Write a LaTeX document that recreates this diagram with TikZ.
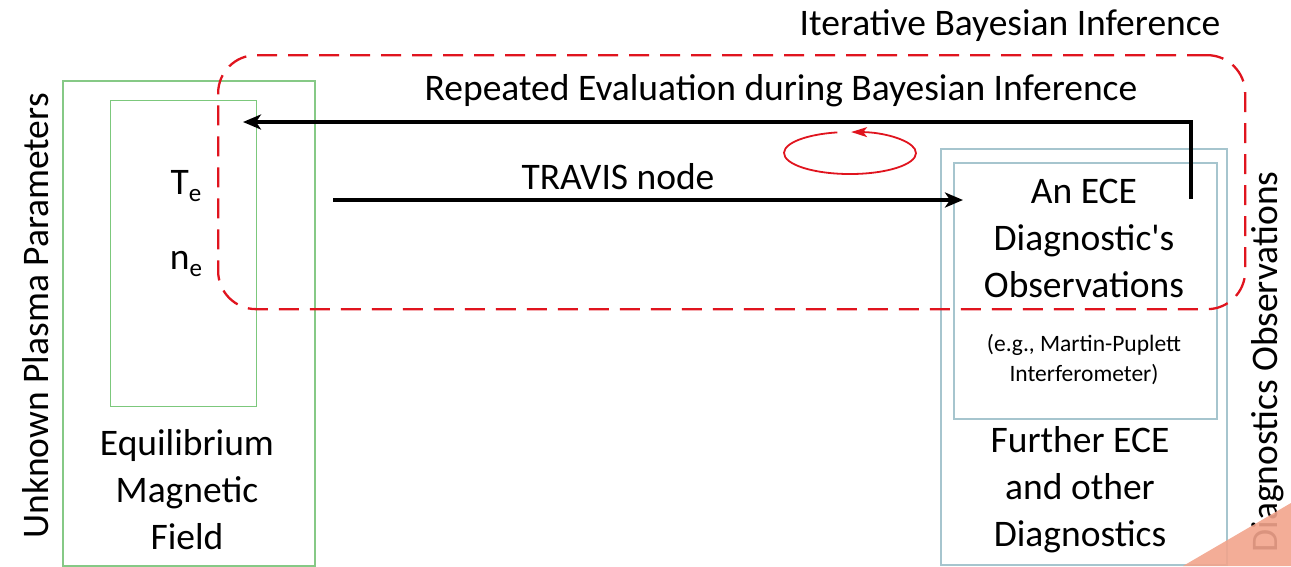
\documentclass[tikz,border=0pt]{standalone}
\usepackage{fontspec}
\setmainfont{Carlito}
\usetikzlibrary{arrows.meta}
\definecolor{boxgreen}{HTML}{86C986}
\definecolor{boxgreenlight}{HTML}{7CC87C}
\definecolor{boxblue}{HTML}{A6C5CE}
\definecolor{loopred}{HTML}{E0141E}
\definecolor{cornerorange}{HTML}{F2A48C}
\newcommand{\lowsub}[1]{\raisebox{-7pt}{\fontsize{25}{25}\selectfont #1}}
\tikzset{
  x=1pt, y=-1pt,
  frame/.style={rectangle, anchor=north west, inner sep=0pt},
  bigtext/.style={font=\fontsize{37.5}{47}\selectfont, align=center},
  smalltext/.style={font=\fontsize{23.5}{30}\selectfont, align=center},
  flow/.style={line width=3.6pt, -{Stealth[length=18pt, width=15pt, inset=5pt]}},
  loopbox/.style={draw=loopred, line width=2.3pt, dash pattern=on 20pt off 11pt, rounded corners=38pt},
}
\begin{document}
\begin{tikzpicture}
\useasboundingbox (0,0) rectangle (1291,566);

% plasma side
\node[frame, draw=boxgreen, line width=2pt, minimum width=252pt, minimum height=485pt] (eqbox) at (62,80) {};
\node[frame, draw=boxgreenlight, line width=1.6pt, minimum width=146pt, minimum height=306pt] (parbox) at (109.5,99.5) {};
\node[bigtext] (te) at (186,186) {T\lowsub{e}};
\node[bigtext] (ne) at (186,264) {n\lowsub{e}};
\node[bigtext] (eqlabel) at (187,490) {Equilibrium\\Magnetic\\Field};
\node[bigtext, rotate=90] (plasma) at (36,316) {Unknown Plasma Parameters};

% diagnostics side
\node[frame, draw=boxblue, line width=2pt, minimum width=286pt, minimum height=416pt] (diagbox) at (940,148) {};
\node[frame, draw=boxblue, line width=1.6pt, minimum width=263pt, minimum height=256pt] (ecebox) at (953,162) {};
\node[bigtext] (ece) at (1084,238) {An ECE\\Diagnostic\textquotesingle s\\Observations};
\node[smalltext] (mp) at (1084,360) {(e.g., Martin-Puplett\\Interferometer)};
\node[bigtext] (further) at (1080,490) {Further ECE\\and other\\Diagnostics};
\node[bigtext, rotate=90] (diagobs) at (1268,362) {Diagnostics Observations};

% inference loop
\node[loopbox, frame, minimum width=1027pt, minimum height=254pt] (loop) at (217,54) {};
\node[bigtext] (iter) at (1010,26) {Iterative Bayesian Inference};
\node[bigtext] (repeat) at (781,91) {Repeated Evaluation during Bayesian Inference};
\node[bigtext] (travis) at (618,177) {TRAVIS node};

% forward model and feedback
\coordinate (fwdstart) at (333,200);
\coordinate (fwdend) at (963,200);
\draw[flow] (fwdstart) -- (fwdend);
\coordinate (backstart) at (1191,199);
\coordinate (backend) at (243,122);
\draw[flow] (backstart) |- (backend);

% circular iteration mark
\coordinate (cyclestart) at (837.4,132.4);
\draw[loopred, line width=1.8pt, -{Stealth[length=16pt, width=10pt, inset=4pt]}]
  (cyclestart) arc[start angle=101, end angle=449, x radius=66pt, y radius=21pt];

% corner overlay
\fill[cornerorange, fill opacity=0.9] (1183,566) -- (1291,503) -- (1291,566) -- cycle;
\end{tikzpicture}
\end{document}
